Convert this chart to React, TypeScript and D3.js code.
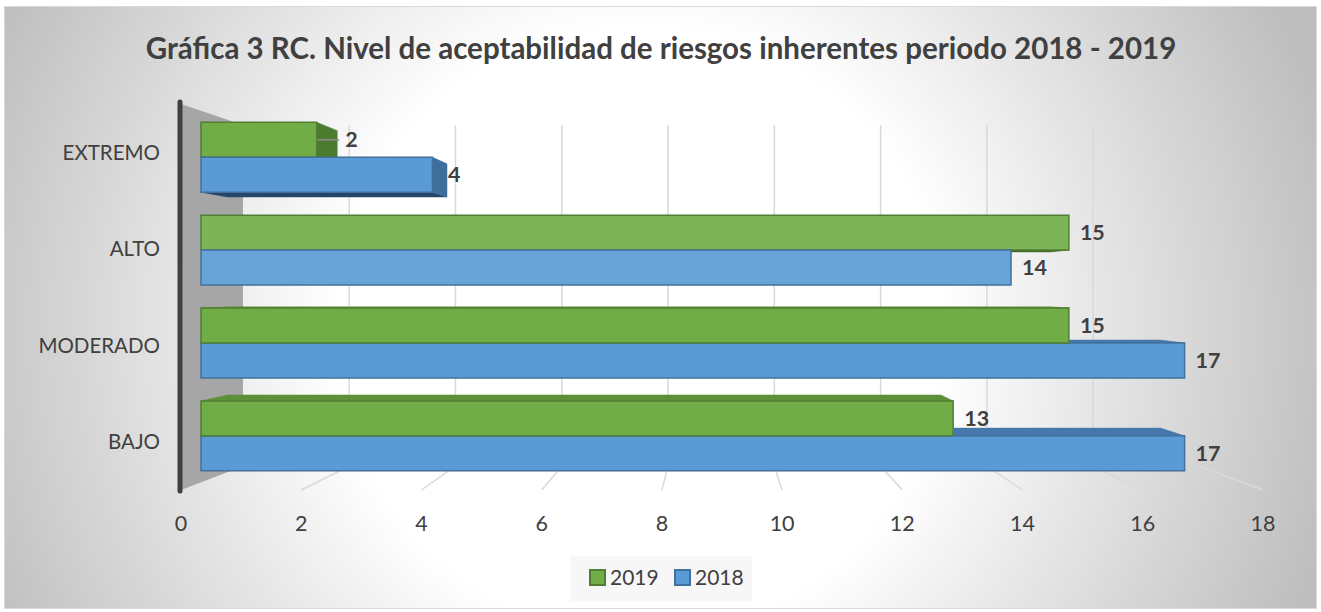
import React from "react";
import * as d3 from "d3";

const categories = ["EXTREMO", "ALTO", "MODERADO", "BAJO"];
const seriesNames = ["2019", "2018"];
const values2019 = [2, 15, 15, 13];
const values2018 = [4, 14, 17, 17];
const xTicks = [0, 2, 4, 6, 8, 10, 12, 14, 16, 18];
const title = "Gráfica 3 RC. Nivel de aceptabilidad de riesgos inherentes periodo 2018 - 2019";

const W = 1321;
const H = 612;
const FONT = "Lato, 'Open Sans', sans-serif";

// perspective
const VX = 715;
const VY = 285;
const S_WALL = 0.884;
const S_BF = 0.9625;
const S_BB = 0.913;

const palette: Record<string, any> = {
  "2019": { front: "#70AD47", stroke: "#507E32", top: "#5C913A", bottom: "#3F6A26", end: "#4B7B2E" },
  "2018": { front: "#5B9BD5", stroke: "#41719C", top: "#4678AB", bottom: "#25456A", end: "#3E6E9C" },
};

function P(xf: number, yf: number, s: number): [number, number] {
  return [VX + (xf - VX) * s, VY + (yf - VY) * s];
}
const pts = (arr: [number, number][]) => arr.map((p) => p.join(",")).join(" ");

export default function App() {
  const x = d3.scaleLinear().domain([0, 18]).range([181, 1263]);
  const y = d3
    .scaleBand<string>()
    .domain(categories)
    .range([104, 490])
    .paddingInner(0.247)
    .paddingOuter(0.1235);
  const ys = d3.scaleBand<string>().domain(seriesNames).range([0, y.bandwidth()]);

  const yTop = 104;
  const yBot = 490;

  const bars: any[] = [];
  categories.forEach((c, i) => {
    [values2019[i], values2018[i]].forEach((v, j) => {
      const s = seriesNames[j];
      const y0 = (y(c) as number) + (ys(s) as number);
      const y1 = y0 + ys.bandwidth();
      bars.push({ c, s, v, y0, y1 });
    });
  });
  // draw farthest from vanishing point first
  bars.sort((a, b) => Math.abs((b.y0 + b.y1) / 2 - VY) - Math.abs((a.y0 + a.y1) / 2 - VY));

  const light = (col: string, cy: number) => {
    const f = Math.max(0, 1 - Math.abs(cy - 250) / 45);
    return d3.interpolateRgb(col, "#ffffff")(0.14 * f);
  };

  return (
    <svg width={W} height={H} style={{ position: "absolute", left: 0, top: 0 }}>
      <defs>
        <radialGradient id="bg" gradientUnits="userSpaceOnUse" cx={640} cy={330} r={720}>
          <stop offset="0" stopColor="#ffffff" />
          <stop offset="0.42" stopColor="#ffffff" />
          <stop offset="1" stopColor="#bdbdbd" />
        </radialGradient>
      </defs>
      <rect x={4.5} y={6.5} width={1312} height={602} fill="url(#bg)" stroke="#d9d9d9" strokeWidth={1} />

      <text
        x={661}
        y={59}
        textAnchor="middle"
        fontFamily={FONT}
        fontWeight="bold"
        fontSize={29.5}
        fill="#404040"
      >
        {title}
      </text>

      {/* side wall */}
      <polygon
        points={pts([P(x(0), yTop, 1), P(x(0), yTop, S_WALL), P(x(0), yBot, S_WALL), P(x(0), yBot, 1)])}
        fill="#A6A6A6"
      />

      {/* back wall gridlines */}
      {xTicks.filter((t) => t > 0 && t < 18).map((t) => {
        const a = P(x(t), yTop, S_WALL);
        const b = P(x(t), yBot, S_WALL);
        return <line key={"g" + t} x1={a[0]} y1={a[1]} x2={b[0]} y2={b[1]} stroke="#d9d9d9" strokeWidth={1.5} />;
      })}
      {/* floor lines */}
      {xTicks.filter((t) => t > 0).map((t) => {
        const a = P(x(t), yBot, S_WALL);
        const b = P(x(t), yBot, 1);
        return <line key={"f" + t} x1={a[0]} y1={a[1]} x2={b[0]} y2={b[1]} stroke="#d9d9d9" strokeWidth={1.5} />;
      })}

      {/* bars */}
      {bars.map((b, k) => {
        const pal = palette[b.s];
        const x0 = x(0);
        const x1 = x(b.v);
        const cy = (b.y0 + b.y1) / 2;
        const fTL = P(x0, b.y0, S_BF), fTR = P(x1, b.y0, S_BF), fBR = P(x1, b.y1, S_BF), fBL = P(x0, b.y1, S_BF);
        const bTL = P(x0, b.y0, S_BB), bTR = P(x1, b.y0, S_BB), bBR = P(x1, b.y1, S_BB), bBL = P(x0, b.y1, S_BB);
        const faces: any[] = [];
        if (b.y0 > VY) {
          faces.push(<polygon key="t" points={pts([fTL, fTR, bTR, bTL])} fill={pal.top} stroke={pal.top} strokeWidth={0.5} />);
        }
        if (b.y1 < VY) {
          faces.push(<polygon key="b" points={pts([fBL, fBR, bBR, bBL])} fill={pal.bottom} stroke={pal.bottom} strokeWidth={0.5} />);
        }
        if (fTR[0] < VX) {
          faces.push(<polygon key="e" points={pts([fTR, bTR, bBR, fBR])} fill={pal.end} stroke={pal.end} strokeWidth={0.5} />);
        }
        return (
          <g key={k}>
            {faces}
            <polygon
              points={pts([fTL, fTR, fBR, fBL])}
              fill={light(pal.front, P(0, cy, S_BF)[1])}
              stroke={pal.stroke}
              strokeWidth={1.5}
            />
          </g>
        );
      })}

      {/* data labels */}
      {bars.map((b, k) => {
        const fr = P(x(b.v), (b.y0 + b.y1) / 2, S_BF);
        const bk = P(x(b.v), (b.y0 + b.y1) / 2, S_BB);
        const hasEnd = fr[0] < VX;
        const endW = bk[0] - fr[0];
        const lx = hasEnd ? bk[0] + (endW > 17 ? 8 : 1) : fr[0] + 11;
        return (
          <g key={"l" + k}>
            {hasEnd && endW > 17 && (
              <line x1={fr[0]} y1={fr[1]} x2={lx - 6} y2={fr[1]} stroke="#8c8c8c" strokeWidth={1.5} />
            )}
            <text
              x={lx}
              y={fr[1]}
              dy="0.36em"
              fontFamily={FONT}
              fontWeight="bold"
              fontSize={21.5}
              fill="#404040"
            >
              {b.v}
            </text>
          </g>
        );
      })}

      {/* axis line */}
      <line x1={180} y1={yTop - 2} x2={180} y2={yBot + 1} stroke="#404040" strokeWidth={5} strokeLinecap="round" />

      {/* category labels */}
      {categories.map((c) => (
        <text
          key={c}
          x={160}
          y={(y(c) as number) + y.bandwidth() / 2}
          dy="0.36em"
          textAnchor="end"
          fontFamily={FONT}
          fontSize={20.5}
          fill="#404040"
        >
          {c}
        </text>
      ))}

      {/* x tick labels */}
      {xTicks.map((t) => (
        <text
          key={"t" + t}
          x={x(t)}
          y={531}
          textAnchor="middle"
          fontFamily={FONT}
          fontSize={21.5}
          fill="#404040"
        >
          {t}
        </text>
      ))}

      {/* legend */}
      <rect x={571} y={556} width={181} height={45} fill="#f7f7f7" />
      {seriesNames.map((s, i) => {
        const lx = 590 + i * 85;
        return (
          <g key={"lg" + s}>
            <rect x={lx} y={570} width={15} height={15} fill={palette[s].front} stroke={palette[s].stroke} strokeWidth={2} />
            <text x={lx + 20} y={585} fontFamily={FONT} fontSize={21} fill="#404040">
              {s}
            </text>
          </g>
        );
      })}
    </svg>
  );
}
